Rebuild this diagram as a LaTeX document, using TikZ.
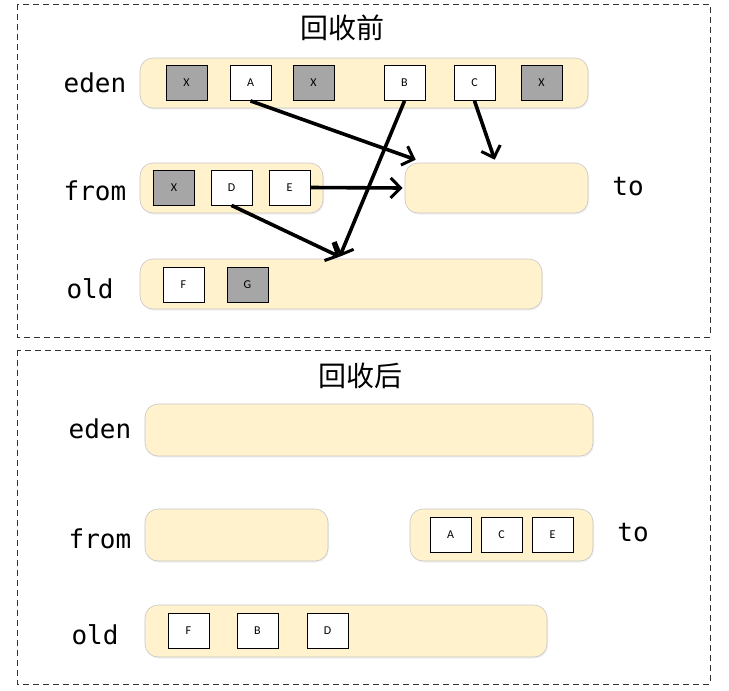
\documentclass[tikz,border=0pt]{standalone}
\usepackage{fontspec}
\setmainfont{Carlito}
\setmonofont{DejaVu Sans Mono}
\newfontfamily\cjk{Noto Sans CJK SC}
\usetikzlibrary{arrows.meta, shadows}
\tikzset{
    area/.style={draw=black!22, fill={rgb,255:red,255;green,242;blue,204},
        rounded corners=13pt, minimum height=50pt, inner sep=0pt, line width=0.6pt,
        drop shadow={opacity=0.12, shadow xshift=1pt, shadow yshift=-1.5pt}},
    obj/.style={draw=black, fill=white, minimum width=41pt, minimum height=35pt, inner sep=0pt,
        line width=0.8pt, font=\fontsize{12}{14}\selectfont},
    dead/.style={obj, fill={rgb,255:red,166;green,166;blue,166}},
    gen/.style={font=\ttfamily\fontsize{26}{29}\selectfont},
    title/.style={font=\cjk\fontsize{28}{32}\selectfont},
    ptr/.style={-{Straight Barb[length=10pt, width=20pt, line width=3pt]}, line width=3.6pt}
}
\begin{document}
\begin{tikzpicture}[x=1pt, y=-1pt]
            \useasboundingbox (0, 0) rectangle (729, 691);
            \draw[black!80, line width=0.8pt, dash pattern=on 6pt off 4pt] (17, 4) rectangle (710, 337);
            \draw[black!80, line width=0.8pt, dash pattern=on 6pt off 4pt] (17, 350) rectangle (710, 684);

            %回收前
            \node[title] (before) at (342, 28) {回收前};
            \node[gen] (eden1lbl) at (95, 83) {eden};
            \node[gen] (from1lbl) at (95, 191) {from};
            \node[gen] (old1lbl) at (90, 289) {old};
            \node[gen] (to1lbl) at (628, 187) {to};

            \node[area, minimum width=448pt] (eden1) at (364, 83) {};
            \node[area, minimum width=183pt] (from1) at (231.5, 188) {};
            \node[area, minimum width=183pt] (to1) at (496.5, 188) {};
            \node[area, minimum width=402pt] (old1) at (341, 284) {};

            \node[dead] (ex1) at (186.5, 83) {X};
            \node[obj] (a1) at (250.5, 83) {A};
            \node[dead] (ex2) at (313.5, 83) {X};
            \node[obj] (b1) at (404.5, 83) {B};
            \node[obj] (c1) at (474.5, 83) {C};
            \node[dead] (ex3) at (541.5, 83) {X};

            \node[dead] (ex4) at (174, 187.5) {X};
            \node[obj] (d1) at (231.5, 187.5) {D};
            \node[obj] (e1) at (289.5, 187.5) {E};

            \node[obj] (f1) at (183.5, 284.5) {F};
            \node[dead] (g1) at (247.5, 284.5) {G};

            \draw[ptr] (a1.south) -- ([xshift=11pt, yshift=3pt]to1.north west);
            \draw[ptr] (c1.south) -- ([xshift=90pt, yshift=3pt]to1.north west);
            \draw[ptr] (e1.east) -- ([xshift=-2pt]to1.west);
            \draw[ptr] (d1.south) -- ([xshift=200pt, yshift=2pt]old1.north west);
            \draw[ptr] (b1.south) -- ([xshift=200pt, yshift=2pt]old1.north west);

            %回收后
            \node[title] (after) at (360, 376) {回收后};
            \node[gen] (eden2lbl) at (100, 429) {eden};
            \node[gen] (from2lbl) at (100, 539) {from};
            \node[gen] (old2lbl) at (95, 635) {old};
            \node[gen] (to2lbl) at (633, 533) {to};

            \node[area, minimum width=448pt, minimum height=52pt] (eden2) at (369, 430) {};
            \node[area, minimum width=183pt, minimum height=52pt] (from2) at (236.5, 535) {};
            \node[area, minimum width=183pt, minimum height=52pt] (to2) at (501.5, 535) {};
            \node[area, minimum width=402pt, minimum height=52pt] (old2) at (346, 631) {};

            \node[obj] (a2) at (450.5, 534.5) {A};
            \node[obj] (c2) at (501.5, 534.5) {C};
            \node[obj] (e2) at (552.5, 534.5) {E};

            \node[obj] (f2) at (188.5, 630.5) {F};
            \node[obj] (b2) at (257.5, 630.5) {B};
            \node[obj] (d2) at (327.5, 630.5) {D};
        \end{tikzpicture}
\end{document}
